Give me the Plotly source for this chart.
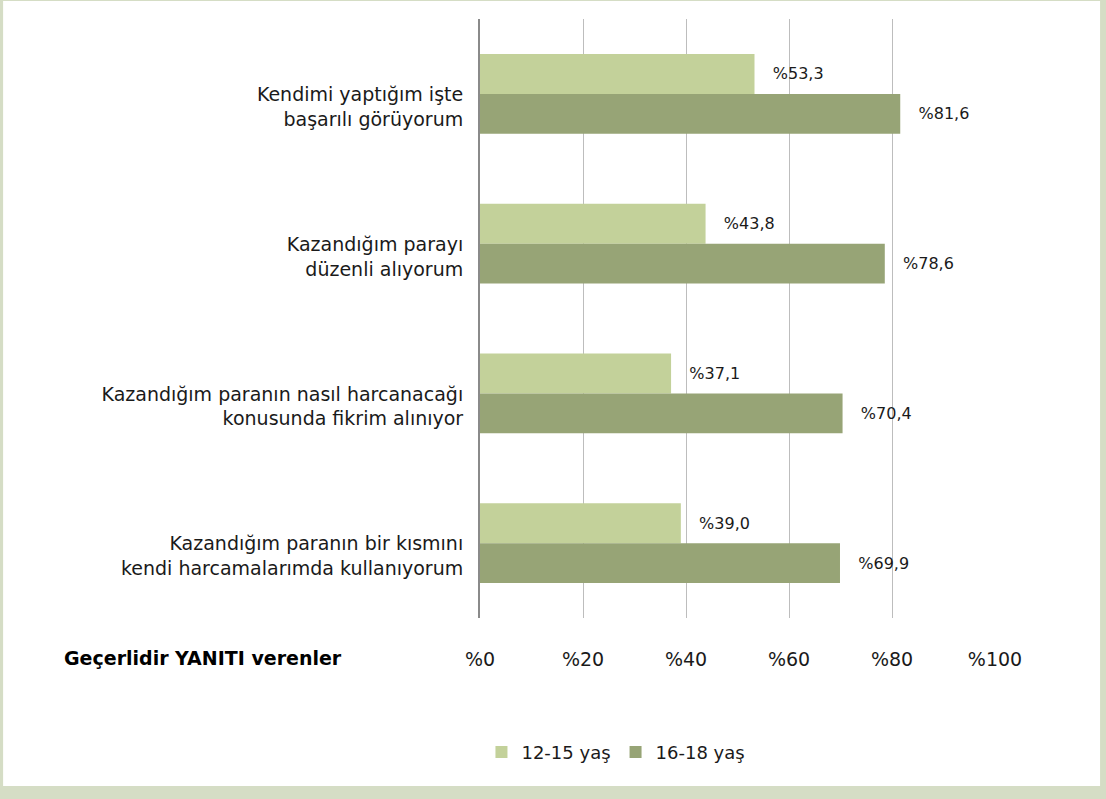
import plotly.graph_objects as go

kategoriler = [
    "Kendimi yaptığım işte<br>başarılı görüyorum",
    "Kazandığım parayı<br>düzenli alıyorum",
    "Kazandığım paranın nasıl harcanacağı<br>konusunda fikrim alınıyor",
    "Kazandığım paranın bir kısmını<br>kendi harcamalarımda kullanıyorum",
]
yas_12_15 = [53.3, 43.8, 37.1, 39.0]
yas_16_18 = [81.6, 78.6, 70.4, 69.9]
seri_adlari = ["12-15 yaş", "16-18 yaş"]
x_tickler = [0, 20, 40, 60, 80, 100]
x_etiketler = ["%0", "%20", "%40", "%60", "%80", "%100"]

renkler = ["#c3d19a", "#97a476"]
yazi_rengi = "#1a1a1a"
font_adi = "DejaVu Sans"


def etiket(v):
    return "   %" + f"{v:.1f}".replace(".", ",")


fig = go.Figure()
for ad, degerler, renk in zip(seri_adlari, [yas_12_15, yas_16_18], renkler):
    fig.add_trace(go.Bar(
        y=kategoriler,
        x=degerler,
        name=ad,
        orientation="h",
        marker=dict(color=renk, line=dict(width=0)),
        text=[etiket(v) for v in degerler],
        textposition="outside",
        constraintext="none",
        textfont=dict(size=16, color=yazi_rengi, family=font_adi),
        cliponaxis=False,
    ))

# çerçeve: kenarlar açık yeşil, iç kısım beyaz
fig.add_shape(
    type="rect", xref="paper", yref="paper",
    x0=-0.926, x1=1.204, y0=-0.2805, y1=1.030,
    fillcolor="white", line=dict(width=0), layer="below",
)

fig.add_annotation(
    text="<b>Geçerlidir YANITI verenler</b>",
    xref="paper", yref="paper", x=-0.8117, y=-0.0668,
    xanchor="left", yanchor="middle", showarrow=False,
    font=dict(size=19, color="black", family=font_adi),
)

fig.update_layout(
    width=1106, height=799,
    margin=dict(l=480, r=111, t=19, b=181),
    paper_bgcolor="#d5ddc5",
    plot_bgcolor="white",
    barmode="group",
    bargap=0.467,
    bargroupgap=0,
    font=dict(family=font_adi, color=yazi_rengi),
    showlegend=True,
    legend=dict(
        orientation="h", x=0.264, y=-0.224,
        xanchor="center", yanchor="middle",
        bgcolor="rgba(0,0,0,0)",
        font=dict(size=18, color=yazi_rengi),
        traceorder="normal",
    ),
    xaxis=dict(
        range=[0, 100],
        tickvals=x_tickler, ticktext=x_etiketler,
        showgrid=True, gridcolor="#bdbdbd", gridwidth=1,
        zeroline=False, ticks="", ticklabelstandoff=28,
        tickfont=dict(size=19, color=yazi_rengi),
        fixedrange=True,
    ),
    yaxis=dict(
        autorange="reversed",
        showline=True, linecolor="#8a8a8a", linewidth=2,
        ticks="", ticklabelstandoff=11, ticklabelshift=-13,
        tickfont=dict(size=19, color=yazi_rengi),
        fixedrange=True,
    ),
)

fig.write_html(
    "out.html",
    config={"displayModeBar": False},
    post_script="document.body.style.margin='0';",
)
